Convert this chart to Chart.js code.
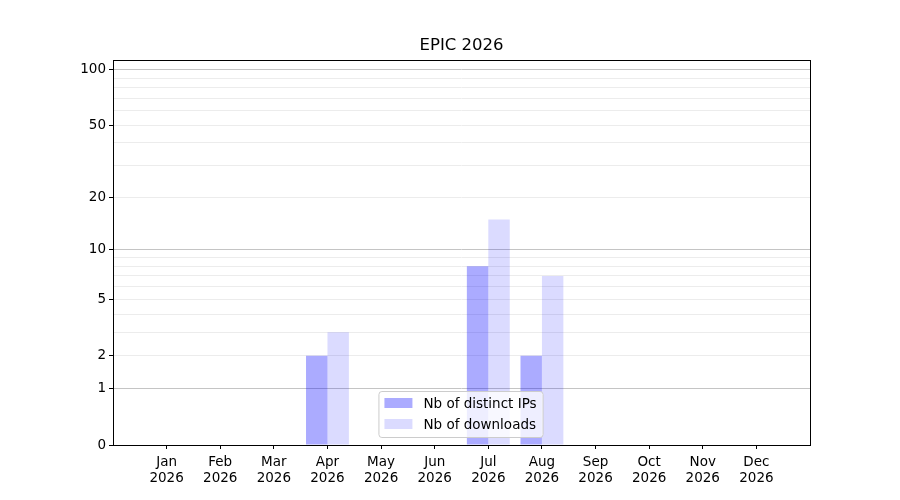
<!DOCTYPE html>
<html lang="en">
<head>
    <meta charset="UTF-8">
    <title>EPIC 2026</title>
    <script src="https://cdn.jsdelivr.net/npm/chart.js"></script>
    <style>
        html, body { margin: 0; padding: 0; background: #fff; }
    </style>
</head>
<body>
<canvas id="downloadsChart" width="900" height="500"></canvas>

<script>
    // data
    const months = ['Jan', 'Feb', 'Mar', 'Apr', 'May', 'Jun', 'Jul', 'Aug', 'Sep', 'Oct', 'Nov', 'Dec'];
    const year = '2026';
    const distinctIPs = [0, 0, 0, 2, 0, 0, 8, 2, 0, 0, 0, 0];
    const downloads = [0, 0, 0, 3, 0, 0, 15, 7, 0, 0, 0, 0];
    const labeledTicks = [0, 1, 2, 5, 10, 20, 50, 100];
    const majorTicks = [1, 10, 100];
    const minorTicks = [2, 3, 4, 5, 6, 7, 8, 9, 20, 30, 40, 50, 60, 70, 80, 90];
    const yTop = 113;

    // y axis is log10(1 + n)
    const tf = v => Math.log10(1 + v);
    const inv = t => Math.round(Math.pow(10, t) - 1);

    // one empty slot on each side, like the xlim of the original
    const xLabels = [''].concat(months, ['']);
    const pad = arr => [null].concat(arr.map(tf), [null]);

    const FONT = 'DejaVu Sans';

    const frameAndLegend = {
        id: 'frameAndLegend',
        afterDatasetsDraw(chart) {
            const { ctx, chartArea: a } = chart;
            ctx.save();
            ctx.strokeStyle = '#000';
            ctx.lineWidth = 1;
            ctx.strokeRect(Math.round(a.left) + 0.5, Math.round(a.top) + 0.5,
                Math.round(a.right - a.left), Math.round(a.bottom - a.top));

            // legend, lower centre inside the axes
            ctx.font = '13.5px "' + FONT + '"';
            const items = chart.data.datasets;
            const tw = Math.max(...items.map(d => ctx.measureText(d.label).width));
            const w = 45 + tw + 6, h = 46;
            const x = (a.left + a.right) / 2 - w / 2 - 1;
            const y = a.bottom - 8 - h;
            ctx.beginPath();
            ctx.roundRect(x + 0.5, y + 0.5, w, h, 3);
            ctx.fillStyle = 'rgba(255,255,255,0.8)';
            ctx.fill();
            ctx.strokeStyle = '#cccccc';
            ctx.stroke();
            items.forEach((d, i) => {
                const cy = y + 12 + i * 21;
                ctx.fillStyle = d.backgroundColor;
                ctx.fillRect(x + 6, cy - 5, 28, 10);
                ctx.fillStyle = '#000';
                ctx.textBaseline = 'middle';
                ctx.fillText(d.label, x + 45, cy + 1);
            });
            ctx.restore();
        }
    };

    const ctx = document.getElementById('downloadsChart').getContext('2d');
    const chart = new Chart(ctx, {
        type: 'bar',
        data: {
            labels: xLabels,
            datasets: [
                { label: 'Nb of distinct IPs', data: pad(distinctIPs), backgroundColor: 'rgba(0,0,255,0.33)', borderWidth: 0 },
                { label: 'Nb of downloads', data: pad(downloads), backgroundColor: 'rgba(0,0,255,0.14)', borderWidth: 0 }
            ]
        },
        plugins: [frameAndLegend],
        options: {
            responsive: false,
            animation: false,
            devicePixelRatio: 1,
            layout: { padding: { left: 0, right: 90, top: 0, bottom: 0 } },
            datasets: { bar: { categoryPercentage: 0.8, barPercentage: 1.0 } },
            plugins: {
                legend: { display: false },
                tooltip: { enabled: false },
                title: {
                    display: true,
                    fullSize: false,
                    text: 'EPIC 2026',
                    color: '#000',
                    font: { family: FONT, size: 16.5, weight: 'normal' },
                    padding: { top: 36, bottom: 4 }
                }
            },
            scales: {
                x: {
                    offset: false,
                    grid: {
                        offset: false,
                        drawOnChartArea: false,
                        drawTicks: true,
                        tickLength: 4,
                        tickColor: c => (c.index === 0 || c.index === xLabels.length - 1) ? 'rgba(0,0,0,0)' : '#000'
                    },
                    border: { display: false },
                    ticks: {
                        autoSkip: false,
                        maxRotation: 0,
                        padding: 5,
                        color: '#000',
                        font: { family: FONT, size: 13.5 },
                        callback: (v, i) => xLabels[i] ? [xLabels[i], year] : ''
                    },
                    afterFit: s => { s.height = 55; }
                },
                y: {
                    min: 0,
                    max: tf(yTop),
                    border: { display: false },
                    afterBuildTicks: s => {
                        const vals = Array.from(new Set(labeledTicks.concat(majorTicks, minorTicks))).sort((a, b) => a - b);
                        s.ticks = vals.map(v => ({ value: tf(v) }));
                    },
                    grid: {
                        drawTicks: true,
                        tickLength: 4,
                        lineWidth: 1,
                        color: c => {
                            const v = inv(c.tick.value);
                            if (v === 0) return 'rgba(0,0,0,0)';
                            return majorTicks.includes(v) ? '#c4c4c4' : '#ececec';
                        },
                        tickColor: c => labeledTicks.includes(inv(c.tick.value)) ? '#000' : 'rgba(0,0,0,0)'
                    },
                    ticks: {
                        padding: 3,
                        color: '#000',
                        font: { family: FONT, size: 13.5 },
                        callback: v => {
                            const n = inv(v);
                            return labeledTicks.includes(n) ? String(n) : '';
                        }
                    },
                    afterFit: s => { s.width = 113; }
                }
            }
        }
    });
</script>
</body>
</html>
